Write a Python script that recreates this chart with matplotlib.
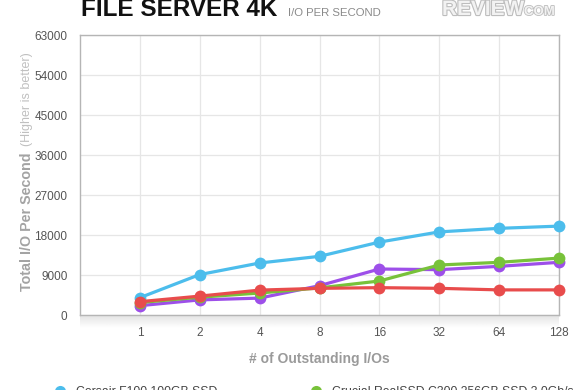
import matplotlib
matplotlib.use("Agg")
import matplotlib.pyplot as plt
import matplotlib.patheffects as pe
from matplotlib.lines import Line2D
import numpy as np

plt.rcParams['font.family'] = ['Liberation Sans', 'DejaVu Sans']

categories = ["1", "2", "4", "8", "16", "32", "64", "128"]
series_names = [
    "Corsair F100 100GB SSD",
    "OCZ Vertex 2 100GB SSD",
    "Crucial RealSSD C300 256GB SSD 3.0Gb/s",
    "Intel X25-M G2 160GB SSD",
]
corsair = [3900, 9100, 11700, 13200, 16400, 18700, 19500, 20000]
purple_vals = [2100, 3400, 3800, 6600, 10350, 10200, 10950, 11850]
crucial = [2800, 4000, 4950, 6100, 7650, 11250, 11850, 12800]
red_vals = [3000, 4250, 5600, 6000, 6150, 6000, 5650, 5650]
colors = ['#4cbdec', '#9d4fe9', '#78c23a', '#e84c4c']
yticks = [0, 9000, 18000, 27000, 36000, 45000, 54000, 63000]

fig = plt.figure(figsize=(5.8, 3.9), dpi=100)
ax = fig.add_axes([80/580, 1-315/390, 479/580, 280/390])

x = np.arange(len(categories))
data = [corsair, purple_vals, crucial, red_vals]
for vals, c, name in zip(data, colors, series_names):
    ax.plot(x, vals, color=c, lw=2.3, marker='o', ms=8.5,
            markeredgewidth=0, label=name, solid_capstyle='round',
            clip_on=False, zorder=3)

ax.set_xlim(-1, 7)
ax.set_ylim(0, 63000)
ax.set_xticks(x)
ax.set_xticklabels(categories)
ax.set_yticks(yticks)
ax.set_yticklabels([str(v) for v in yticks])
ax.grid(True, color='#e6e6e6', lw=0.9)
ax.set_axisbelow(True)
for s in ax.spines.values():
    s.set_color('#b5b5b5')
    s.set_linewidth(1.0)
ax.tick_params(length=0, labelsize=8.5, colors='#555555')
ax.tick_params(axis='x', pad=9)
ax.tick_params(axis='y', pad=9)

ax.set_xlabel("# of Outstanding I/Os", fontsize=10, color='#9a9a9a',
              fontweight='bold', labelpad=9)

# shadow below the plot area
sh = fig.add_axes([80/580, 1-328/390, 479/580, 13/390])
grad = np.linspace(0.88, 1.0, 50).reshape(-1, 1)
sh.imshow(grad, aspect='auto', cmap='gray', vmin=0, vmax=1, extent=[0, 1, 0, 1])
sh.axis('off')
ax.set_zorder(5)
ax.patch.set_alpha(0)

# y axis label
fig.text(27/580, 1-222/390, "Total I/O Per Second", rotation=90, fontsize=10.3,
         color='#a3a3a3', fontweight='bold', ha='center', va='center')
fig.text(27/580, 1-99/390, "(Higher is better)", rotation=90, fontsize=9,
         color='#c0c0c0', ha='center', va='center')

# title
fig.text(81/580, 1-15.5/390, "FILE SERVER 4K", fontsize=17.5, fontweight='bold',
         color='#111111', ha='left', va='baseline')
fig.text(288/580, 1-15.5/390, "I/O PER SECOND", fontsize=8.2, color='#8a8a8a',
         ha='left', va='baseline')
fig.text(442/580, 1-15/390, "REVIEW", fontsize=15, fontweight='bold',
         color='#f2f2f2', ha='left', va='baseline',
         path_effects=[pe.withStroke(linewidth=1.6, foreground='#bdbdbd')])
fig.text(524/580, 1-15/390, "COM", fontsize=9.5, fontweight='bold',
         color='#f2f2f2', ha='left', va='baseline',
         path_effects=[pe.withStroke(linewidth=1.2, foreground='#bdbdbd')])

# legends (two columns)
def mk(c):
    return Line2D([], [], color=c, marker='o', ls='none', ms=8, markeredgewidth=0)

fig.legend([mk(colors[0]), mk(colors[1])], [series_names[0], series_names[1]],
           loc='upper left', bbox_to_anchor=(48/580, 1-386/390),
           frameon=False, fontsize=8.8, borderpad=0, borderaxespad=0,
           handletextpad=0.3, labelcolor='#444444', labelspacing=1.2)
fig.legend([mk(colors[2]), mk(colors[3])], [series_names[2], series_names[3]],
           loc='upper left', bbox_to_anchor=(304/580, 1-386/390),
           frameon=False, fontsize=8.8, borderpad=0, borderaxespad=0,
           handletextpad=0.3, labelcolor='#444444', labelspacing=1.2)

fig.savefig("out.png", dpi=100)
